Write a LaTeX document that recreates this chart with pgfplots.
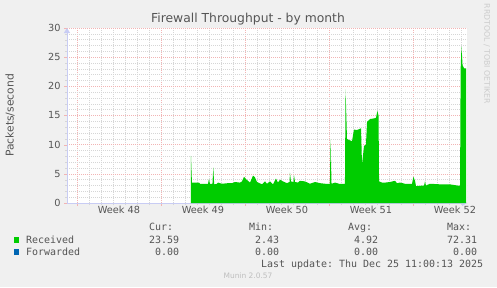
\documentclass[border=0pt]{standalone}
\usepackage{fontspec}
\setmainfont{DejaVu Sans}
\setmonofont{DejaVu Sans Mono}
\usepackage{pgfplots}
\pgfplotsset{compat=1.18}
\usetikzlibrary{arrows.meta}
\definecolor{bg}{HTML}{F0F0F0}
\definecolor{rcv}{HTML}{00CC00}
\definecolor{fwd}{HTML}{0066B3}
\definecolor{txt}{HTML}{555555}
\definecolor{axiscol}{HTML}{C8CCF4}
\definecolor{mgrid}{HTML}{F2B4B4}
\definecolor{ngrid}{HTML}{D6D6D6}
\pgfplotstableread{
x y
9.50 8.1
9.58 3.5
10.17 3.5
10.25 3.3
10.92 3.3
11.00 4.1
11.08 3.3
11.29 3.3
11.36 6.1
11.43 3.2
11.67 3.3
11.75 3.5
12.08 3.3
12.58 3.4
12.92 3.4
13.17 3.6
13.58 3.5
13.75 3.7
13.92 4.5
14.08 4.1
14.25 3.8
14.42 3.5
14.67 4.7
14.83 4.4
15.00 3.6
15.42 3.2
15.67 3.7
15.83 3.3
16.08 3.7
16.33 3.2
16.58 4.2
16.75 3.5
16.92 4.0
17.17 3.7
17.50 3.4
17.71 3.6
17.75 5.2
17.83 3.7
18.04 3.6
18.08 4.8
18.17 3.6
18.42 3.5
18.58 3.8
19.00 3.7
19.42 3.3
19.83 3.6
20.25 3.4
20.67 3.3
21.08 3.3
21.13 10.9
21.21 3.3
21.50 3.5
21.83 3.3
22.33 3.3
22.38 19.5
22.50 11.0
22.67 10.8
22.92 10.6
23.08 12.6
23.33 12.5
23.67 12.8
23.75 6.6
23.92 9.8
24.08 10.0
24.17 13.9
24.42 14.4
24.75 14.5
24.92 14.6
25.03 15.8
25.13 15.0
25.17 3.7
25.42 3.5
25.67 3.5
26.08 3.6
26.50 3.8
26.67 3.4
26.92 3.5
27.33 3.3
27.92 3.3
28.03 4.5
28.17 3.8
28.25 2.9
28.92 3.0
29.00 3.7
29.08 3.0
29.42 3.3
30.25 3.2
31.08 3.2
31.67 3.0
31.92 3.0
31.97 23.0
32.04 26.8
32.13 23.6
32.25 23.1
32.42 23.1
}\rcvdata
\begin{document}
\begin{tikzpicture}[x=1bp,y=1bp]
\useasboundingbox (0,0) rectangle (497,287);
\fill[bg] (0,0) rectangle (497,287);
\begin{axis}[
  at={(67bp,84bp)}, anchor=south west,
  scale only axis, width=400bp, height=175bp,
  xmin=-0.83, xmax=32.5, ymin=0, ymax=30,
  axis lines=left,
  axis line style={draw=axiscol, line width=0.8bp},
  x axis line style={-{Triangle[length=5bp,width=6bp,fill=axiscol]}},
  y axis line style={-{Triangle[length=5bp,width=6bp,fill=axiscol]}},
  axis background/.style={fill=white},
  xtick={0,7,14,21,28}, xticklabels={},
  minor xtick={1,2,3,4,5,6,8,9,10,11,12,13,15,16,17,18,19,20,22,23,24,25,26,27,29,30,31,32},
  ytick={0,5,10,15,20,25,30},
  minor ytick={1,2,3,4,6,7,8,9,11,12,13,14,16,17,18,19,21,22,23,24,26,27,28,29},
  grid=both,
  major grid style={draw=mgrid, dash pattern=on 1bp off 1bp, line width=0.6bp},
  minor grid style={draw=ngrid, dash pattern=on 1bp off 1bp, line width=0.6bp},
  tick align=outside,
  major tick length=3bp, minor tick length=2bp,
  major tick style={draw=mgrid},
  minor tick style={draw=ngrid},
  extra x ticks={3.5,10.5,17.5,24.5,31.5},
  extra x tick labels={Week 48,Week 49,Week 50,Week 51,Week 52},
  extra x tick style={grid=none, major tick length=0pt},
  ticklabel style={font=\fontsize{9.8}{11}\selectfont, text=txt},
  /pgf/number format/assume math mode=true,
  clip=true,
]
\addplot[fill=rcv, draw=none] table[x=x,y=y] {\rcvdata} \closedcycle;
\end{axis}
% title and labels
\node[text=txt, font=\fontsize{12.4}{14}\selectfont] at (248,268) {Firewall Throughput - by month};
\node[text=txt, rotate=90, font=\fontsize{10.8}{12}\selectfont] at (10,171.5) {Packets/second};
\node[text={rgb,255:red,204;green,204;blue,204}, rotate=-90, inner sep=0pt, font=\fontsize{7.8}{9}\selectfont] at (487,233) {RRDTOOL / TOBI OETIKER};
% legend
\begin{scope}[every node/.style={inner sep=0pt, anchor=base west, text=txt, font=\ttfamily\fontsize{10}{12}\selectfont}]
\node at (149,56.5) {Cur:};
\node at (249,56.5) {Min:};
\node at (348,56.5) {Avg:};
\node at (447,56.5) {Max:};
\fill[rcv] (14,44.3) rectangle (19.3,49.7);
\node at (26,43.5) {Received};
\node at (149,43.5) {23.59};
\node at (255,43.5) {2.43};
\node at (354,43.5) {4.92};
\node at (447,43.5) {72.31};
\fill[fwd] (14,32.3) rectangle (19.3,37.7);
\node at (26,31.5) {Forwarded};
\node at (155,31.5) {0.00};
\node at (255,31.5) {0.00};
\node at (354,31.5) {0.00};
\node at (453,31.5) {0.00};
\node at (261,20) {Last update: Thu Dec 25 11:00:13 2025};
\end{scope}
\node[text={rgb,255:red,190;green,190;blue,190}, font=\fontsize{7.5}{9}\selectfont] at (248,11) {Munin 2.0.57};
\end{tikzpicture}
\end{document}
